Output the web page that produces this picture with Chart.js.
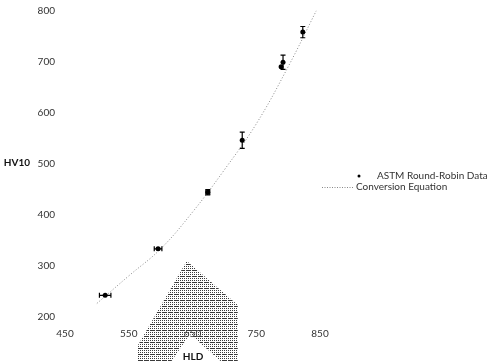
<!DOCTYPE html>
<html>
<head>
<meta charset="utf-8">
<script src="https://cdn.jsdelivr.net/npm/chart.js@4/dist/chart.umd.min.js"></script>
<style>
  html, body { margin: 0; padding: 0; background: #fff; }
  #wrap { width: 487px; height: 361px; }
</style>
</head>
<body>
<div id="wrap"><canvas id="c" width="487" height="361"></canvas></div>
<script>
// ASTM round-robin measurements: hardness in HLD (x) vs HV10 (y)
const hld    = [513, 596, 674, 728, 792, 789, 823];
const hv     = [242, 333, 444, 546, 699, 690, 758];
const hldErr = [9, 6, 3, 0, 0, 0, 0];   // horizontal error half-widths
const hvErr  = [0, 0, 5, 16, 14, 0, 11]; // vertical error half-heights

// Conversion equation curve, sampled
const eqHld = [500, 550, 600, 650, 700, 750, 800, 845];
const eqHv  = [226, 280, 333, 405, 488, 578, 690, 802];

// Axis ticks
const xTicks = [450, 550, 650, 750, 850];
const yTicks = [200, 300, 400, 500, 600, 700, 800];

// Stippled overlay region (HLD, HV10 units)
const shadeHld = [641, 563, 563, 610, 646, 706, 721, 721];
const shadeHv  = [309, 141, 100, 100, 166, 100, 100, 223];

const FONT = 'Lato, "Open Sans", sans-serif';

function stipplePattern(ctx) {
  const t = document.createElement('canvas');
  t.width = 6; t.height = 6;
  const g = t.getContext('2d');
  g.fillStyle = '#3a3a3a';
  for (let y = 0; y < 6; y++) {
    for (let x = 0; x < 6; x++) {
      if ((x % 2 === 0 && y % 2 === 0) || (y === 0 && x % 2 === 1 && x < 5)) g.fillRect(x, y, 1, 1);
    }
  }
  return ctx.createPattern(t, 'repeat');
}

const overlay = {
  id: 'overlay',
  beforeDatasetsDraw(chart) {
    const { ctx, scales: { x, y } } = chart;
    ctx.save();
    ctx.beginPath();
    shadeHld.forEach((v, i) => {
      const px = x.getPixelForValue(v), py = y.getPixelForValue(shadeHv[i]);
      if (i === 0) ctx.moveTo(px, py); else ctx.lineTo(px, py);
    });
    ctx.closePath();
    ctx.fillStyle = stipplePattern(ctx);
    ctx.fill();
    ctx.restore();
  }
};

const errorBars = {
  id: 'errorBars',
  afterDatasetsDraw(chart) {
    const { ctx, scales: { x, y } } = chart;
    ctx.save();
    ctx.strokeStyle = '#000';
    ctx.lineWidth = 1.2;
    const cap = 2.5;
    hld.forEach((v, i) => {
      const px = x.getPixelForValue(v), py = y.getPixelForValue(hv[i]);
      if (hldErr[i]) {
        const l = x.getPixelForValue(v - hldErr[i]), r = x.getPixelForValue(v + hldErr[i]);
        ctx.beginPath();
        ctx.moveTo(l, py); ctx.lineTo(r, py);
        ctx.moveTo(l, py - cap); ctx.lineTo(l, py + cap);
        ctx.moveTo(r, py - cap); ctx.lineTo(r, py + cap);
        ctx.stroke();
      }
      if (hvErr[i]) {
        const t = y.getPixelForValue(hv[i] + hvErr[i]), b = y.getPixelForValue(hv[i] - hvErr[i]);
        ctx.beginPath();
        ctx.moveTo(px, t); ctx.lineTo(px, b);
        ctx.moveTo(px - cap, t); ctx.lineTo(px + cap, t);
        ctx.moveTo(px - cap, b); ctx.lineTo(px + cap, b);
        ctx.stroke();
      }
    });
    ctx.restore();
  }
};

const labels = {
  id: 'labels',
  afterDraw(chart) {
    const { ctx } = chart;
    ctx.save();
    // axis titles
    ctx.fillStyle = '#111';
    ctx.font = 'bold 10px ' + FONT;
    ctx.textAlign = 'center';
    ctx.textBaseline = 'middle';
    ctx.fillText('HV10', 17, 163);
    ctx.fillText('HLD', 193, 357);
    // legend
    ctx.font = '10px ' + FONT;
    ctx.textAlign = 'left';
    ctx.beginPath();
    ctx.arc(359, 176, 1.5, 0, Math.PI * 2);
    ctx.fillStyle = '#000';
    ctx.fill();
    ctx.fillStyle = '#333';
    ctx.fillText('ASTM Round-Robin Data', 377, 176);
    ctx.strokeStyle = '#888';
    ctx.lineWidth = 1;
    ctx.setLineDash([1, 1.5]);
    ctx.beginPath();
    ctx.moveTo(322, 187.5); ctx.lineTo(353, 187.5);
    ctx.stroke();
    ctx.setLineDash([]);
    ctx.fillText('Conversion Equation', 356, 187);
    ctx.restore();
  }
};

new Chart(document.getElementById('c'), {
  type: 'scatter',
  data: {
    datasets: [
      {
        label: 'ASTM Round-Robin Data',
        data: hld.map((v, i) => ({ x: v, y: hv[i] })),
        pointRadius: 2.5,
        pointBackgroundColor: '#000',
        pointBorderColor: '#000',
        pointBorderWidth: 0,
        showLine: false
      },
      {
        label: 'Conversion Equation',
        data: eqHld.map((v, i) => ({ x: v, y: eqHv[i] })),
        showLine: true,
        pointRadius: 0,
        borderColor: '#888',
        borderWidth: 1,
        borderDash: [1, 2],
        tension: 0.4,
        fill: false
      }
    ]
  },
  options: {
    responsive: false,
    animation: false,
    layout: { padding: { left: 0, right: 167, top: 10.7, bottom: 0 } },
    plugins: { legend: { display: false }, tooltip: { enabled: false } },
    scales: {
      x: {
        type: 'linear',
        min: 450, max: 850,
        afterBuildTicks: s => { s.ticks = xTicks.map(v => ({ value: v })); },
        afterFit: s => { s.height = 44.3; s.paddingLeft = 0; s.paddingRight = 0; },
        grid: { display: false, drawTicks: false },
        border: { display: false },
        ticks: { padding: 11, color: '#333', font: { family: FONT, size: 10 } }
      },
      y: {
        type: 'linear',
        min: 200, max: 800,
        afterBuildTicks: s => { s.ticks = yTicks.map(v => ({ value: v })); },
        afterFit: s => { s.width = 65; s.paddingTop = 0; s.paddingBottom = 0; },
        grid: { display: false, drawTicks: false },
        border: { display: false },
        ticks: { padding: 10, color: '#333', font: { family: FONT, size: 10 } }
      }
    }
  },
  plugins: [overlay, errorBars, labels]
});
</script>
</body>
</html>
